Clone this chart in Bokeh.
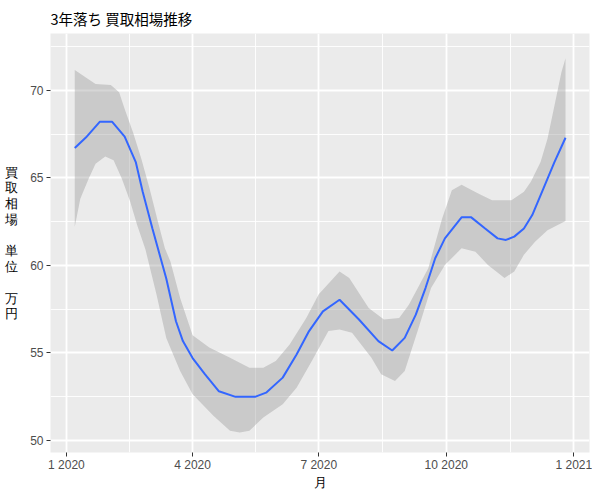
import pandas as pd
from datetime import datetime
from bokeh.plotting import figure
from bokeh.models import Range1d, FixedTicker, DatetimeTickFormatter
from bokeh.embed import file_html
from bokeh.resources import INLINE

# ---- data ----
line_dates = ["2020-01-07", "2020-01-15", "2020-01-25", "2020-02-03", "2020-02-12", "2020-02-20",
              "2020-02-25", "2020-03-03", "2020-03-13", "2020-03-20", "2020-03-25", "2020-04-01",
              "2020-04-10", "2020-04-20", "2020-05-02", "2020-05-16", "2020-05-24", "2020-06-05",
              "2020-06-15", "2020-06-24", "2020-07-04", "2020-07-16", "2020-07-30", "2020-08-13",
              "2020-08-23", "2020-09-01", "2020-09-09", "2020-09-16", "2020-09-23", "2020-09-30",
              "2020-10-12", "2020-10-19", "2020-10-29", "2020-11-07", "2020-11-13", "2020-11-19",
              "2020-11-26", "2020-12-02", "2020-12-11", "2020-12-18", "2020-12-26"]
line_values = [66.7, 67.3, 68.2, 68.2, 67.35, 65.9, 64.2, 62.1, 59.25, 56.8, 55.67, 54.7,
               53.77, 52.8, 52.48, 52.48, 52.72, 53.58, 54.9, 56.24, 57.37, 58.03, 56.9, 55.67,
               55.13, 55.85, 57.18, 58.7, 60.4, 61.54, 62.74, 62.74, 62.1, 61.54, 61.45, 61.64,
               62.1, 62.87, 64.57, 65.9, 67.29]

upper_dates = ["2020-01-07", "2020-01-15", "2020-01-22", "2020-02-02", "2020-02-08", "2020-02-12",
               "2020-02-18", "2020-02-24", "2020-03-01", "2020-03-07", "2020-03-12", "2020-03-16",
               "2020-03-23", "2020-04-01", "2020-04-13", "2020-04-28", "2020-05-12", "2020-05-22",
               "2020-05-31", "2020-06-10", "2020-06-22", "2020-07-01", "2020-07-16", "2020-07-23",
               "2020-08-06", "2020-08-17", "2020-08-28", "2020-09-04", "2020-09-18", "2020-09-28",
               "2020-10-05", "2020-10-12", "2020-10-24", "2020-11-03", "2020-11-17", "2020-11-26",
               "2020-12-01", "2020-12-08", "2020-12-13", "2020-12-18", "2020-12-23", "2020-12-26"]
upper_values = [71.17, 70.74, 70.36, 70.3, 69.89, 68.94, 67.61, 66.09, 64.38, 62.49, 60.97, 60.22,
                58.13, 56.0, 55.3, 54.72, 54.15, 54.15, 54.53, 55.47, 56.99, 58.35, 59.65, 59.27,
                57.56, 56.9, 56.99, 57.75, 59.83, 62.68, 64.29, 64.6, 64.1, 63.72, 63.72, 64.2,
                64.77, 65.9, 67.23, 69.12, 71.02, 71.84]

lower_dates = ["2020-01-07", "2020-01-11", "2020-01-17", "2020-01-22", "2020-01-29", "2020-02-04",
               "2020-02-10", "2020-02-16", "2020-02-21", "2020-02-27", "2020-03-06", "2020-03-13",
               "2020-03-23", "2020-04-01", "2020-04-16", "2020-04-28", "2020-05-05", "2020-05-12",
               "2020-05-22", "2020-06-05", "2020-06-15", "2020-06-26", "2020-07-08", "2020-07-16",
               "2020-07-25", "2020-08-08", "2020-08-15", "2020-08-25", "2020-09-01", "2020-09-11",
               "2020-09-20", "2020-09-30", "2020-10-12", "2020-10-22", "2020-10-31", "2020-11-12",
               "2020-11-19", "2020-11-26", "2020-12-04", "2020-12-13", "2020-12-26"]
lower_values = [62.2, 63.8, 64.95, 65.81, 66.22, 66.0, 64.95, 63.63, 62.3, 60.9, 58.32, 55.85,
                53.96, 52.63, 51.4, 50.55, 50.45, 50.55, 51.3, 52.06, 53.0, 54.53, 56.24, 56.33,
                56.14, 54.72, 53.77, 53.39, 53.96, 56.42, 58.7, 60.02, 60.97, 60.78, 60.02, 59.27,
                59.65, 60.6, 61.35, 62.01, 62.53]

x_tick_dates = ["2020-01-01", "2020-04-01", "2020-07-01", "2020-10-01", "2021-01-01"]
y_ticks = [50, 55, 60, 65, 70]
y_minor = [47.5, 52.5, 57.5, 62.5, 67.5, 72.5]

title_text = "3年落ち 買取相場推移"
x_title = "月"
y_title = "買\n取\n相\n場\n\n単\n位\n\n万\n円"

# ---- build ----
lx = pd.to_datetime(line_dates)
ux = pd.to_datetime(upper_dates)
lwx = pd.to_datetime(lower_dates)

band_x = list(ux) + list(lwx[::-1])
band_y = list(upper_values) + list(lower_values[::-1])

xt = pd.to_datetime(x_tick_dates)
xt_ms = [t.value / 1e6 for t in xt]
xminor_ms = [(a + b) / 2 for a, b in zip(xt_ms[:-1], xt_ms[1:])]
step = xt_ms[1] - xt_ms[0]
xminor_ms = [xt_ms[0] - step / 2] + xminor_ms + [xt_ms[-1] + step / 2]

x_start = datetime(2019, 12, 20, 12)
x_end = datetime(2021, 1, 12, 7)

p = figure(width=592, height=492, x_axis_type="datetime",
           output_backend="svg", toolbar_location=None,
           x_range=Range1d(x_start, x_end),
           y_range=Range1d(49.3, 73.25),
           min_border_left=50, min_border_right=3, min_border_top=33, min_border_bottom=37)

p.background_fill_color = "#EBEBEB"
p.border_fill_color = "white"
p.outline_line_color = None

p.patch(band_x, band_y, fill_color="#999999", fill_alpha=0.4, line_color=None)
p.line(lx, line_values, line_color="#3366FF", line_width=2)

# axes
p.xaxis.ticker = FixedTicker(ticks=xt_ms, minor_ticks=xminor_ms)
p.xaxis.formatter = DatetimeTickFormatter(days="%-m %Y", months="%-m %Y", years="%-m %Y")
p.yaxis.ticker = FixedTicker(ticks=y_ticks, minor_ticks=y_minor)

for ax in (p.xaxis[0], p.yaxis[0]):
    ax.axis_line_color = None
    ax.major_tick_line_color = "#333333"
    ax.major_tick_line_width = 1
    ax.major_tick_out = 4
    ax.major_tick_in = 0
    ax.minor_tick_out = 0
    ax.minor_tick_in = 0
    ax.minor_tick_line_color = None
    ax.major_label_text_color = "#4D4D4D"
    ax.major_label_text_font = "Liberation Sans"
    ax.major_label_text_font_size = "12px"
    ax.axis_label_text_font = "Liberation Sans"
    ax.axis_label_text_font_style = "normal"
    ax.axis_label_text_font_size = "13px"
    ax.axis_label_text_color = "black"

p.xaxis.axis_label = x_title
p.xaxis.major_label_standoff = 1
p.xaxis.axis_label_standoff = 0

p.yaxis.axis_label = y_title
p.yaxis.axis_label_orientation = "horizontal"
p.yaxis.axis_label_text_line_height = 1.05
p.yaxis.major_label_standoff = 3
p.yaxis.axis_label_standoff = 9

# grids
for g in (p.xgrid[0], p.ygrid[0]):
    g.grid_line_color = "white"
    g.grid_line_width = 1.8
    g.minor_grid_line_color = "white"
    g.minor_grid_line_width = 0.9

# title
p.title.text = title_text
p.title.text_font = "Noto Sans CJK JP"
p.title.text_font_style = "normal"
p.title.text_font_size = "14.5px"
p.title.text_color = "black"
p.title.align = "left"
p.title.offset = 0

open("out.html", "w").write(file_html(p, INLINE))
